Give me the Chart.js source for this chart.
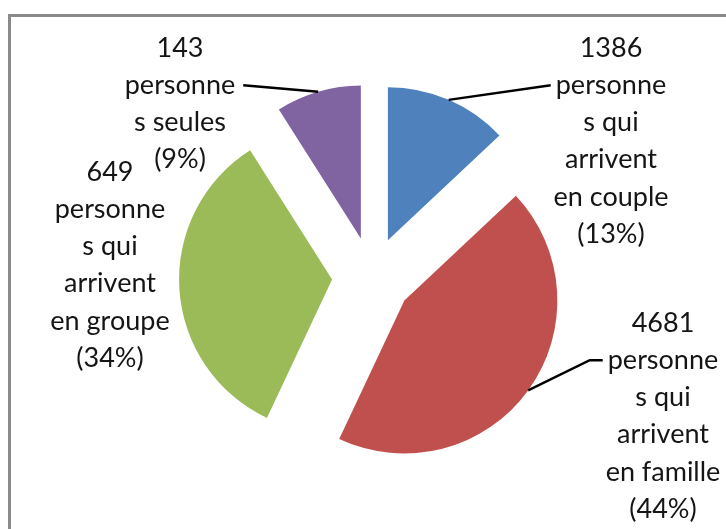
<!DOCTYPE html>
<html>
<head>
<meta charset="utf-8">
<script src="https://cdn.jsdelivr.net/npm/chart.js@4.4.0/dist/chart.umd.min.js"></script>
<style>
  html, body { margin: 0; padding: 0; background: #fff; overflow: hidden; }
  #wrap { position: relative; width: 726px; height: 529px; overflow: hidden; }
  #frame { position: absolute; left: 8px; top: 14px; width: 800px; height: 600px; border: 3px solid #8a8a8a; box-sizing: border-box; }
  #pie { position: absolute; left: 0; top: 0; }
</style>
</head>
<body>
<div id="wrap">
  <div id="frame"></div>
  <canvas id="pie" width="726" height="529"></canvas>
</div>
<script>
// data
var categories = ['personnes qui arrivent en couple', 'personnes qui arrivent en famille', 'personnes qui arrivent en groupe', 'personnes seules'];
var counts = [1386, 4681, 649, 143];
var percents = [13, 44, 34, 9];
// label text as wrapped in the original
var wrapped = [
    ['personne', 's qui', 'arrivent', 'en couple'],
    ['personne', 's qui', 'arrivent', 'en famille'],
    ['personne', 's qui', 'arrivent', 'en groupe'],
    ['personne', 's seules']
];
var colors = ['#4F81BD', '#C0504D', '#9BBB59', '#8064A2'];

// layout (not data)
var labelPos = [[611, 48], [663, 323], [110, 172], [180, 48]]; // centre x, first line y
var hasLeader = [true, true, false, true];
var leaderTail = [0, 13, 0, 0];
var lineStep = 37.2;
var explode = 40;

// move each slice out from the centre along its middle angle
var explodePlugin = {
    id: 'explode',
    afterDatasetsUpdate: function (chart) {
        var arcs = chart.getDatasetMeta(0).data;
        arcs.forEach(function (arc) {
            var mid = (arc.startAngle + arc.endAngle) / 2;
            arc.x += Math.cos(mid) * explode;
            arc.y += Math.sin(mid) * explode;
        });
    }
};

// text labels + leader lines
var labelPlugin = {
    id: 'pieLabels',
    afterDraw: function (chart) {
        var ctx = chart.ctx;
        var arcs = chart.getDatasetMeta(0).data;
        ctx.save();
        ctx.font = '27px Lato';
        ctx.textAlign = 'center';
        ctx.textBaseline = 'middle';
        ctx.fillStyle = '#151515';
        arcs.forEach(function (arc, i) {
            var lines = [String(counts[i])].concat(wrapped[i]).concat(['(' + percents[i] + '%)']);
            var cx = labelPos[i][0], y0 = labelPos[i][1];
            lines.forEach(function (t, k) {
                ctx.fillText(t, cx, y0 + k * lineStep);
            });
            if (!hasLeader[i]) return;
            var mid = (arc.startAngle + arc.endAngle) / 2;
            var sx = arc.x + Math.cos(mid) * arc.outerRadius;
            var sy = arc.y + Math.sin(mid) * arc.outerRadius;
            var w = ctx.measureText(lines[1]).width;
            var ey = y0 + lineStep;
            var ex, bx;
            if (sx < cx) {
                ex = cx - w / 2 - 5;
                bx = ex - leaderTail[i];
            } else {
                ex = cx + w / 2 + 8;
                bx = ex + leaderTail[i];
            }
            ctx.beginPath();
            ctx.moveTo(sx, sy);
            ctx.lineTo(bx, ey);
            ctx.lineTo(ex, ey);
            ctx.strokeStyle = '#000';
            ctx.lineWidth = 2.5;
            ctx.stroke();
        });
        ctx.restore();
    }
};

var chart = new Chart(document.getElementById('pie'), {
    type: 'pie',
    data: {
        labels: categories,
        datasets: [{
            data: percents,
            backgroundColor: colors,
            borderWidth: 0
        }]
    },
    options: {
        responsive: false,
        animation: false,
        events: [],
        radius: 153,
        layout: { padding: { left: 18, top: 25, right: 0, bottom: 0 } },
        plugins: {
            legend: { display: false },
            tooltip: { enabled: false }
        }
    },
    plugins: [explodePlugin, labelPlugin]
});
</script>
</body>
</html>
